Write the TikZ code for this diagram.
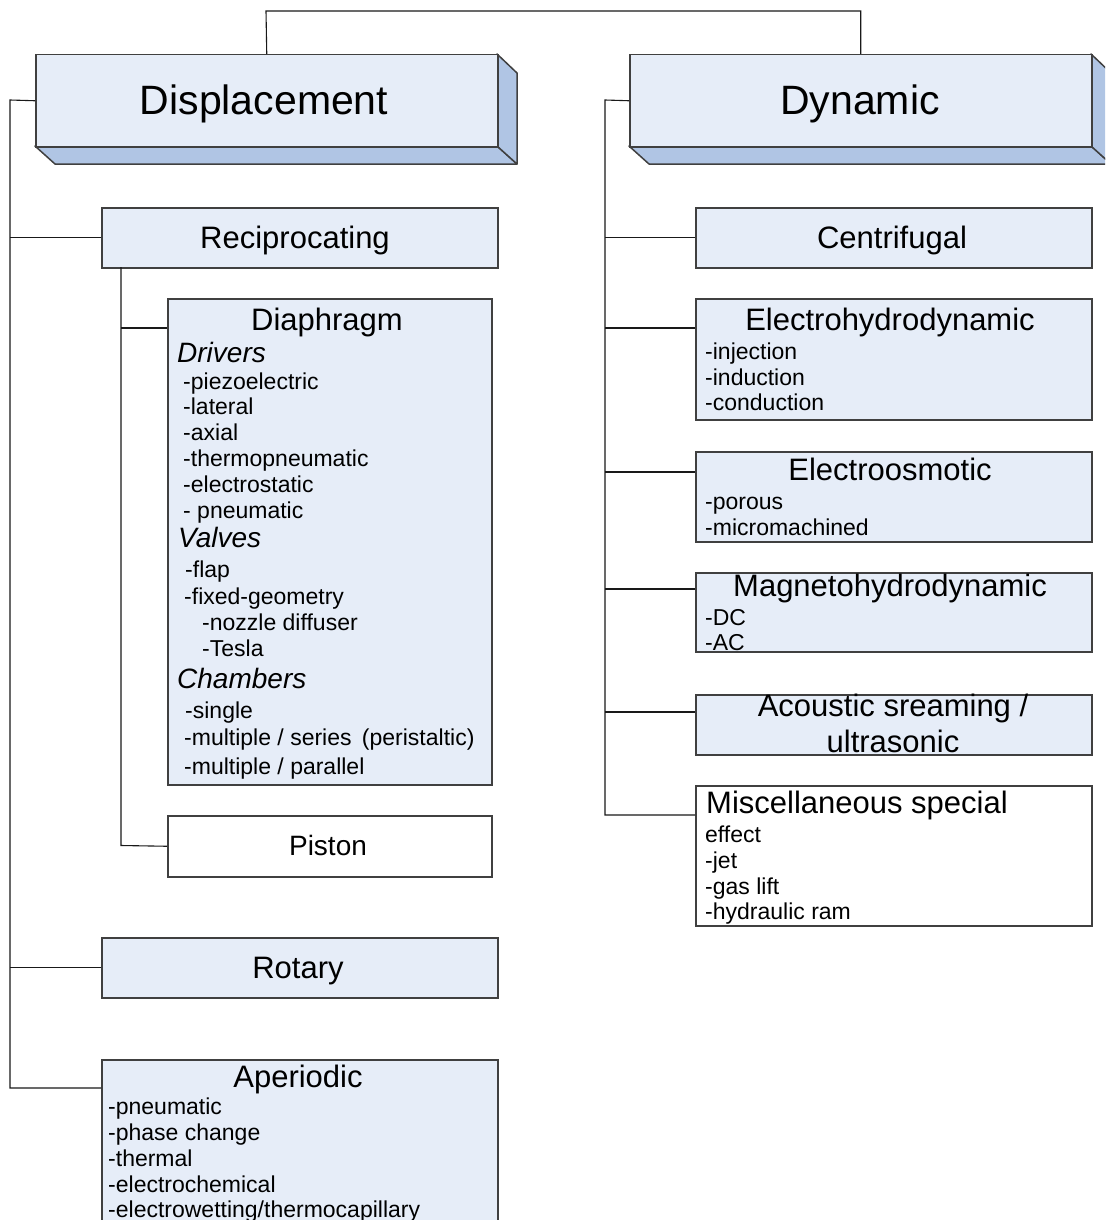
\documentclass[tikz,border=0pt]{standalone}
\usepackage{fontspec}
\setmainfont{Liberation Sans}
\definecolor{boxfill}{HTML}{E6EDF8}
\definecolor{shadefill}{HTML}{B0C5E4}
\definecolor{edge}{HTML}{404040}
\begin{document}
\begin{tikzpicture}[x=1pt,y=-1pt,
  box/.style={draw=edge,line width=1.5pt,fill=boxfill,inner sep=0pt,anchor=north west},
  wbox/.style={box,fill=white},
  shade/.style={draw=edge,line width=1.5pt,fill=shadefill,line join=round},
  conn/.style={draw=black!90,line width=1.1pt},
  big/.style={font=\fontsize{41}{48}\selectfont,inner sep=0pt,anchor=base},
  ttl/.style={font=\fontsize{31}{36}\selectfont,inner sep=0pt,anchor=base},
  ttlw/.style={ttl,anchor=base west},
  itm/.style={font=\fontsize{23}{26}\selectfont,inner sep=0pt,anchor=base west},
  hd/.style={font=\fontsize{28}{32}\selectfont\itshape,inner sep=0pt,anchor=base west}]
\useasboundingbox (0,0) rectangle (1105,1220);
\begin{scope}
\clip (0,0) rectangle (1105,1220);
% 3D shading of the two top boxes
\path[shade] (35,146) -- (497,146) -- (517,164) -- (55,164) -- cycle;
\path[shade] (497,54) -- (517,73) -- (517,164) -- (497,146) -- cycle;
\path[shade] (629,146) -- (1091,146) -- (1111,164) -- (649,164) -- cycle;
\path[shade] (1091,54) -- (1111,73) -- (1111,164) -- (1091,146) -- cycle;
% boxes
\node[box,minimum width=462pt,minimum height=92pt] (disp) at (35,54) {};
\node[box,minimum width=462pt,minimum height=92pt] (dyn) at (629,54) {};
\node[box,minimum width=396pt,minimum height=60pt] (rec) at (101,207) {};
\node[box,minimum width=324pt,minimum height=486pt] (diap) at (167,298) {};
\node[wbox,minimum width=324pt,minimum height=61pt] (pist) at (167,815) {};
\node[box,minimum width=396pt,minimum height=60pt] (rot) at (101,937) {};
\node[box,minimum width=396pt,minimum height=190pt] (aper) at (101,1059) {};
\node[box,minimum width=396pt,minimum height=60pt] (cent) at (695,207) {};
\node[box,minimum width=396pt,minimum height=121pt] (ehd) at (695,298) {};
\node[box,minimum width=396pt,minimum height=90pt] (eo) at (695,451) {};
\node[box,minimum width=396pt,minimum height=79pt] (mhd) at (695,572) {};
\node[box,minimum width=396pt,minimum height=60pt] (ac) at (695,694) {};
\node[wbox,minimum width=396pt,minimum height=140pt] (misc) at (695,785) {};
% connectors
\coordinate (top) at (266,11);
\draw[conn] (disp.north) -- (top) -| (dyn.north);
\coordinate (lt0) at (10,100);
\coordinate (lt1) at (10,1088);
\draw[conn] (disp.west) -- (lt0) -- (lt1) -- (lt1 -| aper.west);
\draw[conn] (rec.west) -- (rec.west -| lt0);
\draw[conn] (rot.west) -- (rot.west -| lt0);
\coordinate (st0) at (121,267);
\coordinate (st1) at (121,845.5);
\coordinate (dc) at (121,328);
\draw[conn] (st0) -- (st1) -- (pist.west);
\draw[conn] (dc) -- (dc -| diap.west);
\coordinate (rt0) at (605,100);
\coordinate (rt1) at (605,815);
\draw[conn] (dyn.west) -- (rt0) -- (rt1) -- (rt1 -| misc.west);
\draw[conn] (cent.west) -- (cent.west -| rt0);
\coordinate (rc1) at (605,328);
\coordinate (rc2) at (605,472);
\coordinate (rc3) at (605,589);
\coordinate (rc4) at (605,712);
\draw[conn] (rc1) -- (rc1 -| ehd.west);
\draw[conn] (rc2) -- (rc2 -| eo.west);
\draw[conn] (rc3) -- (rc3 -| mhd.west);
\draw[conn] (rc4) -- (rc4 -| ac.west);
% texts left
\node[big] (tdisp) at (264,114.5) {Displacement};
\node[ttl] (trec) at (295,248) {Reciprocating};
\node[ttl] (tdiap) at (327,330) {Diaphragm};
\node[hd] (hdrv) at (177,362) {Drivers};
\node[itm] (d1) at (183,389) {-piezoelectric};
\node[itm] (d2) at (183,414) {-lateral};
\node[itm] (d3) at (183,440) {-axial};
\node[itm] (d4) at (183,466) {-thermopneumatic};
\node[itm] (d5) at (183,492) {-electrostatic};
\node[itm] (d6) at (183,518) {- pneumatic};
\node[hd] (hval) at (178,547) {Valves};
\node[itm] (v1) at (185,577) {-flap};
\node[itm] (v2) at (184,604) {-fixed-geometry};
\node[itm] (v3) at (202,630) {-nozzle diffuser};
\node[itm] (v4) at (202,656) {-Tesla};
\node[hd] (hch) at (177,688) {Chambers};
\node[itm] (c1) at (185,718) {-single};
\node[itm] (c2) at (184,745) {-multiple / series\hspace{4pt} (peristaltic)};
\node[itm] (c3) at (184,774) {-multiple / parallel};
\node[font=\fontsize{28}{32}\selectfont,inner sep=0pt,anchor=base] (tpist) at (328,855) {Piston};
\node[ttl] (trot) at (298,978) {Rotary};
\node[ttl] (taper) at (298,1087) {Aperiodic};
\node[itm] (a1) at (108,1114) {-pneumatic};
\node[itm] (a2) at (108,1140) {-phase change};
\node[itm] (a3) at (108,1166) {-thermal};
\node[itm] (a4) at (108,1192) {-electrochemical};
\node[itm] (a5) at (108,1217) {-electrowetting/thermocapillary};
% texts right
\node[big] (tdyn) at (860,114.5) {Dynamic};
\node[ttl] (tcent) at (892,248) {Centrifugal};
\node[ttl] (tehd) at (890,330) {Electrohydrodynamic};
\node[itm] (e1) at (705,359) {-injection};
\node[itm] (e2) at (705,385) {-induction};
\node[itm] (e3) at (705,410) {-conduction};
\node[ttl] (teo) at (890,480) {Electroosmotic};
\node[itm] (o1) at (705,509) {-porous};
\node[itm] (o2) at (705,535) {-micromachined};
\node[ttl] (tmhd) at (890,596) {Magnetohydrodynamic};
\node[itm] (m1) at (705,625) {-DC};
\node[itm] (m2) at (705,650) {-AC};
\node[ttl] (tac1) at (893,716) {Acoustic sreaming /};
\node[ttl] (tac2) at (893,752) {ultrasonic};
\node[ttlw] (tmisc) at (706,813) {Miscellaneous special};
\node[itm] (s1) at (705,842) {effect};
\node[itm] (s2) at (705,868) {-jet};
\node[itm] (s3) at (705,894) {-gas lift};
\node[itm] (s4) at (705,919) {-hydraulic ram};
\end{scope}
\end{tikzpicture}
\end{document}
